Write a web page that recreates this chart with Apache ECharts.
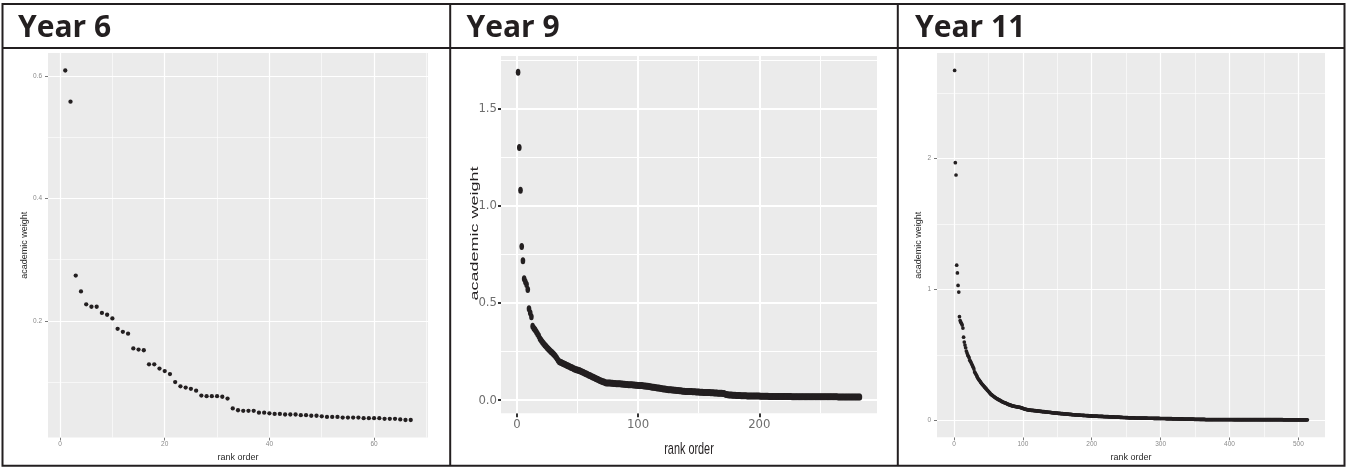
<!DOCTYPE html>
<html>
<head>
<meta charset="utf-8">
<script src="https://cdn.jsdelivr.net/npm/echarts@6/dist/echarts.min.js"></script>
<style>
  html, body { margin: 0; padding: 0; background: #ffffff; }
  #chart { width: 1346px; height: 467px; }
</style>
</head>
<body>
<div id="chart"></div>
<script>
// Panel headings and axis titles
const panelTitles = ['Year 6', 'Year 9', 'Year 11'];
const xTitle = 'rank order';
const yTitle = 'academic weight';

// Academic weight of each subject, in rank order (rank = position + 1)
const year6Weights = [
  0.609, 0.558, 0.274, 0.248, 0.227, 0.223, 0.223, 0.213, 0.210, 0.204,
  0.187, 0.182, 0.179, 0.155, 0.153, 0.152, 0.129, 0.129, 0.122, 0.118,
  0.113, 0.100, 0.093, 0.091, 0.089, 0.086, 0.078, 0.077, 0.077, 0.077,
  0.076, 0.073, 0.057, 0.054, 0.053, 0.053, 0.053, 0.050, 0.050, 0.049,
  0.048, 0.048, 0.047, 0.047, 0.047, 0.046, 0.046, 0.045, 0.045, 0.044,
  0.043, 0.043, 0.043, 0.042, 0.042, 0.042, 0.042, 0.041, 0.041, 0.041,
  0.041, 0.040, 0.040, 0.040, 0.039, 0.038, 0.038
];

const year9Weights = [
  1.688, 1.300, 1.081, 0.791, 0.718, 0.625, 0.610, 0.595, 0.570, 0.470,
  0.450, 0.430, 0.380, 0.370, 0.362, 0.352, 0.342, 0.332,
  0.318, 0.308, 0.300, 0.292, 0.284, 0.277, 0.270, 0.263, 0.257, 0.251,
  0.245, 0.239, 0.232, 0.225, 0.216, 0.206,
  0.198, 0.195, 0.192, 0.189, 0.186, 0.183, 0.180, 0.177, 0.174, 0.171,
  0.168, 0.165, 0.162, 0.159, 0.157, 0.155, 0.153, 0.151, 0.148,
  0.145, 0.142, 0.139, 0.136, 0.133, 0.130, 0.127, 0.124, 0.121, 0.118,
  0.115, 0.112, 0.109, 0.106, 0.103, 0.100, 0.097, 0.095, 0.093,
  0.090, 0.089, 0.089, 0.088, 0.088, 0.087, 0.087, 0.086, 0.086, 0.085,
  0.085, 0.084, 0.084, 0.083, 0.083, 0.082, 0.082, 0.081, 0.081, 0.080,
  0.080, 0.079, 0.079, 0.078, 0.078, 0.077, 0.077, 0.076, 0.076, 0.075,
  0.075, 0.074, 0.073, 0.073, 0.072,
  0.071, 0.070, 0.069, 0.068, 0.067, 0.066, 0.065, 0.064, 0.063, 0.062,
  0.061, 0.060, 0.059, 0.058, 0.057, 0.056, 0.055, 0.054, 0.053, 0.053,
  0.052, 0.052, 0.051, 0.051, 0.050, 0.050, 0.049, 0.049,
  0.047, 0.046, 0.046, 0.045, 0.045, 0.045, 0.044, 0.044, 0.044, 0.043,
  0.043, 0.043, 0.042, 0.042, 0.042, 0.041, 0.041, 0.041, 0.040, 0.040,
  0.040, 0.039, 0.039, 0.039, 0.038, 0.038, 0.038, 0.037, 0.037, 0.037,
  0.036, 0.036, 0.035, 0.035, 0.034, 0.034,
  0.030, 0.029, 0.028, 0.027, 0.026, 0.026, 0.025, 0.025, 0.025,
  0.024, 0.024, 0.024, 0.024, 0.023, 0.023, 0.023, 0.023, 0.023, 0.022,
  0.022, 0.022, 0.022, 0.022, 0.021, 0.021, 0.021, 0.021, 0.021, 0.021,
  0.020, 0.020, 0.020, 0.020, 0.020, 0.020, 0.020,
  0.019, 0.019, 0.019, 0.019, 0.019, 0.019, 0.019, 0.019, 0.019, 0.019,
  0.019, 0.019, 0.019, 0.019, 0.019, 0.019, 0.019, 0.019, 0.019,
  0.018, 0.018, 0.018, 0.018, 0.018, 0.018, 0.018, 0.018, 0.018, 0.018,
  0.018, 0.018, 0.018, 0.018, 0.018, 0.018, 0.018, 0.018, 0.018,
  0.017, 0.017, 0.017, 0.017, 0.017, 0.017, 0.017, 0.017, 0.017, 0.017,
  0.017, 0.017, 0.017, 0.017, 0.017, 0.017, 0.017, 0.017, 0.017,
  0.016, 0.016, 0.016, 0.016, 0.016, 0.016, 0.016, 0.016, 0.016, 0.016,
  0.016, 0.016, 0.016, 0.016, 0.016, 0.016, 0.016, 0.016, 0.016
];

const year11Weights = [
  2.674, 1.969, 1.875, 1.186, 1.127, 1.031, 0.980, 0.792, 0.763, 0.750,
  0.740, 0.728, 0.705, 0.636, 0.598, 0.575, 0.555, 0.530, 0.515, 0.500,
  0.490, 0.478, 0.460, 0.450, 0.440,
  0.428, 0.417, 0.405, 0.392, 0.370, 0.362, 0.352, 0.342, 0.330, 0.320,
  0.312, 0.305, 0.298, 0.290, 0.283, 0.276, 0.270, 0.264, 0.258, 0.252,
  0.246, 0.240, 0.234, 0.228, 0.222, 0.216, 0.210,
  0.203, 0.198, 0.194, 0.190, 0.186, 0.182, 0.178, 0.174, 0.170, 0.167,
  0.164, 0.161, 0.158, 0.155, 0.152, 0.149, 0.146, 0.143, 0.140, 0.138,
  0.136, 0.134,
  0.132, 0.130, 0.127, 0.124, 0.122, 0.120, 0.118, 0.116, 0.114, 0.112,
  0.110, 0.109, 0.108, 0.107, 0.106, 0.105, 0.104, 0.103, 0.102, 0.101,
  0.100, 0.099, 0.098, 0.096, 0.094, 0.092, 0.090, 0.088, 0.086, 0.085,
  0.084, 0.082, 0.081, 0.080,
  0.079, 0.078, 0.078, 0.077, 0.077, 0.076, 0.076, 0.075, 0.075, 0.074,
  0.073, 0.073, 0.072, 0.071, 0.071, 0.070, 0.069, 0.069, 0.068, 0.067,
  0.067, 0.066, 0.066, 0.065, 0.065, 0.064, 0.064, 0.063, 0.062, 0.062,
  0.061, 0.061, 0.060,
  0.059, 0.058, 0.058, 0.057, 0.057, 0.056, 0.056, 0.055, 0.055, 0.054,
  0.054, 0.053, 0.053, 0.052, 0.052, 0.051, 0.051, 0.050, 0.050, 0.049,
  0.049, 0.048, 0.048, 0.047, 0.047, 0.046, 0.046, 0.045, 0.045, 0.044,
  0.044, 0.043, 0.043, 0.042, 0.042, 0.042, 0.041, 0.041, 0.041, 0.040,
  0.040, 0.040, 0.039, 0.039, 0.039, 0.038, 0.038, 0.038, 0.037, 0.037,
  0.037, 0.036, 0.036, 0.036, 0.035, 0.035, 0.035, 0.034, 0.034,
  0.033, 0.033, 0.033, 0.033, 0.032, 0.032, 0.032, 0.032, 0.031, 0.031,
  0.031, 0.031, 0.030, 0.030, 0.030, 0.030, 0.029, 0.029, 0.029, 0.029,
  0.028, 0.028, 0.028, 0.028, 0.027, 0.027, 0.027, 0.027, 0.026, 0.026,
  0.026, 0.026, 0.025, 0.025, 0.025, 0.025, 0.024, 0.024, 0.024, 0.024,
  0.023, 0.023, 0.023, 0.023, 0.022, 0.022, 0.022, 0.022, 0.021, 0.021,
  0.021, 0.021, 0.020,
  0.019, 0.019, 0.019, 0.019, 0.019, 0.019, 0.019, 0.019, 0.019,
  0.018, 0.018, 0.018, 0.018, 0.018, 0.018, 0.018, 0.018, 0.018,
  0.017, 0.017, 0.017, 0.017, 0.017, 0.017, 0.017, 0.017, 0.017,
  0.016, 0.016, 0.016, 0.016, 0.016, 0.016, 0.016, 0.016, 0.016,
  0.015, 0.015, 0.015, 0.015, 0.015, 0.015, 0.015, 0.015, 0.015,
  0.014, 0.014, 0.014, 0.014, 0.014, 0.014, 0.014, 0.014, 0.014,
  0.013, 0.013, 0.013, 0.013, 0.013, 0.013, 0.013, 0.013, 0.013,
  0.012, 0.012, 0.012, 0.012, 0.012, 0.012, 0.012, 0.012,
  0.011, 0.011, 0.011, 0.011, 0.011, 0.011, 0.011, 0.011,
  0.010, 0.010, 0.010, 0.010, 0.010, 0.010, 0.010, 0.010,
  0.009, 0.009, 0.009, 0.009, 0.009, 0.009, 0.009, 0.009,
  0.008, 0.008, 0.008, 0.008, 0.008, 0.008, 0.008, 0.008,
  0.007, 0.007, 0.007, 0.007, 0.007, 0.007, 0.007, 0.007,
  0.006, 0.006, 0.006, 0.006, 0.006,
  0.006, 0.006, 0.006, 0.006, 0.006, 0.006, 0.006, 0.006, 0.006, 0.006,
  0.006, 0.006, 0.006, 0.006, 0.006, 0.006, 0.006, 0.006, 0.006, 0.006,
  0.006, 0.006, 0.006, 0.006, 0.006, 0.006, 0.006, 0.006, 0.006, 0.006,
  0.006, 0.006, 0.006, 0.006, 0.006, 0.006,
  0.005, 0.005, 0.005, 0.005, 0.005, 0.005, 0.005, 0.005, 0.005, 0.005,
  0.005, 0.005, 0.005, 0.005, 0.005, 0.005, 0.005, 0.005, 0.005, 0.005,
  0.005, 0.005, 0.005, 0.005, 0.005, 0.005, 0.005, 0.005, 0.005, 0.005,
  0.005, 0.005, 0.005, 0.005, 0.005, 0.005, 0.005, 0.005, 0.005, 0.005,
  0.005, 0.005, 0.005, 0.005, 0.005, 0.005, 0.005, 0.005, 0.005, 0.005,
  0.005, 0.005, 0.005, 0.005, 0.005, 0.005, 0.005, 0.005, 0.005, 0.005,
  0.005, 0.005, 0.005, 0.005, 0.005, 0.005, 0.005, 0.005, 0.005, 0.005,
  0.005, 0.005,
  0.004, 0.004, 0.004, 0.004, 0.004, 0.004, 0.004, 0.004, 0.004, 0.004,
  0.004, 0.004, 0.004, 0.004, 0.004, 0.004, 0.004, 0.004, 0.004, 0.004,
  0.004, 0.004, 0.004, 0.004, 0.004, 0.004, 0.004, 0.004, 0.004, 0.004,
  0.004, 0.004, 0.004, 0.004, 0.004, 0.004
];

// Labelled (major) tick values and the minor grid positions between them
const year6XTicks = [0, 20, 40, 60];
const year6YTicks = [0.2, 0.4, 0.6];
const year6XMinor = [10, 30, 50, 70];
const year6YMinor = [0.1, 0.3, 0.5];
const year9XTicks = [0, 100, 200];
const year9YTicks = [0.0, 0.5, 1.0, 1.5];
const year9XMinor = [50, 150, 250];
const year9YMinor = [0.25, 0.75, 1.25, 1.75];
const year11XTicks = [0, 100, 200, 300, 400, 500];
const year11YTicks = [0, 1, 2];
const year11XMinor = [50, 150, 250, 350, 450];
const year11YMinor = [0.5, 1.5, 2.5];

const INK = '#231f20';
const SANS = '"Liberation Sans", Arial, sans-serif';
const NARROW = '"Liberation Sans Narrow", "DejaVu Sans Condensed", "Liberation Sans", sans-serif';

// ggplot-style limits: data range padded by 5% on each side
function padded(lo, hi) {
  const d = (hi - lo) * 0.05;
  return [lo - d, hi + d];
}
function toPoints(values) {
  return values.map((v, i) => [i + 1, v]);
}

const panels = [
  {
    values: year6Weights, xTicks: year6XTicks, yTicks: year6YTicks,
    xMinor: year6XMinor, yMinor: year6YMinor,
    grid: { left: 48, top: 53, width: 380, height: 384.5 },
    yFmt: v => v.toFixed(1), symbolSize: 4.3,
    small: true, yNameGap: 16.5, xNameGap: 13.5
  },
  {
    values: year9Weights, xTicks: year9XTicks, yTicks: year9YTicks,
    xMinor: year9XMinor, yMinor: year9YMinor,
    grid: { left: 501, top: 56, width: 376, height: 357.3 },
    yFmt: v => v.toFixed(1), symbolSize: [4.6, 7],
    small: false
  },
  {
    values: year11Weights, xTicks: year11XTicks, yTicks: year11YTicks,
    xMinor: year11XMinor, yMinor: year11YMinor,
    grid: { left: 937, top: 53, width: 388, height: 384.3 },
    yFmt: v => String(Math.round(v)), symbolSize: 3.7,
    small: true, yNameGap: 11, xNameGap: 13.5
  }
];

function axisStyle(p, isX) {
  const ticks = isX ? p.xTicks : p.yTicks;
  const small = p.small;
  return {
    axisLine: { show: false, onZero: false },
    axisTick: {
      show: true, customValues: ticks,
      length: small ? 3 : (isX ? 4 : 3),
      lineStyle: { color: small ? '#555555' : '#333333', width: small ? 0.8 : 2 }
    },
    axisLabel: {
      customValues: ticks,
      fontFamily: small ? SANS : NARROW,
      fontSize: small ? 6.5 : 13,
      color: small ? '#8a8a8a' : '#6e6e6e',
      margin: small ? (isX ? 3.5 : 6) : (isX ? 5 : 4),
      formatter: isX ? (v => String(Math.round(v))) : p.yFmt
    },
    splitLine: { show: false },
    minorSplitLine: { show: false }
  };
}

// White panel grid lines placed on the axis scales
function gridLines(p) {
  const major = { color: '#ffffff', width: p.small ? 1.2 : 2, type: 'solid' };
  const minor = { color: '#ffffff', width: p.small ? 0.6 : 1, type: 'solid' };
  const items = [];
  p.xMinor.forEach(v => items.push({ xAxis: v, lineStyle: minor }));
  p.yMinor.forEach(v => items.push({ yAxis: v, lineStyle: minor }));
  p.xTicks.forEach(v => items.push({ xAxis: v, lineStyle: major }));
  p.yTicks.forEach(v => items.push({ yAxis: v, lineStyle: major }));
  return items;
}

const grids = [], xAxes = [], yAxes = [], series = [];
panels.forEach((p, k) => {
  grids.push(Object.assign({ show: true, backgroundColor: '#ebebeb', borderWidth: 0 }, p.grid));
  const xl = padded(1, p.values.length);
  const yl = padded(Math.min(...p.values), Math.max(...p.values));
  const xa = Object.assign({ type: 'value', gridIndex: k, min: xl[0], max: xl[1] }, axisStyle(p, true));
  const ya = Object.assign({ type: 'value', gridIndex: k, min: yl[0], max: yl[1] }, axisStyle(p, false));
  if (p.small) {
    Object.assign(xa, {
      name: xTitle, nameLocation: 'middle', nameGap: p.xNameGap,
      nameTextStyle: { fontFamily: SANS, fontSize: 9, color: '#2b2b2b' }
    });
    Object.assign(ya, {
      name: yTitle, nameLocation: 'middle', nameGap: p.yNameGap,
      nameTextStyle: { fontFamily: SANS, fontSize: 9, color: '#2b2b2b' }
    });
  }
  xAxes.push(xa);
  yAxes.push(ya);
  series.push({
    type: 'line', xAxisIndex: k, yAxisIndex: k, data: [], z: 1, silent: true,
    markLine: {
      z: 1, silent: true, symbol: ['none', 'none'], label: { show: false },
      emphasis: { disabled: true }, animation: false,
      data: gridLines(p)
    }
  });
  series.push({
    type: 'scatter', xAxisIndex: k, yAxisIndex: k, z: 3,
    data: toPoints(p.values),
    symbol: 'circle', symbolSize: p.symbolSize,
    itemStyle: { color: INK, opacity: 1 },
    silent: true
  });
});

// Table frame: outer box, heading row and column dividers
const frame = [
  { type: 'rect', shape: { x: 2.5, y: 4, width: 1342, height: 461.7 }, style: { fill: 'none', stroke: INK, lineWidth: 2 } },
  { type: 'line', shape: { x1: 2.5, y1: 48, x2: 1344.5, y2: 48 }, style: { stroke: INK, lineWidth: 2 } },
  { type: 'line', shape: { x1: 450.2, y1: 4, x2: 450.2, y2: 465.7 }, style: { stroke: INK, lineWidth: 2 } },
  { type: 'line', shape: { x1: 897.8, y1: 4, x2: 897.8, y2: 465.7 }, style: { stroke: INK, lineWidth: 2 } }
];
const headingX = [18, 466.5, 915];
const headings = panelTitles.map((t, k) => ({
  type: 'text', x: headingX[k], y: 28,
  style: {
    text: t, fill: INK, align: 'left', verticalAlign: 'middle',
    font: 'bold 30px "Open Sans", "Noto Sans", sans-serif'
  }
}));
// Year 9 panel titles are drawn condensed, like the rest of that panel
const year9Titles = [
  {
    type: 'text', x: 689, y: 449, scaleX: 0.64,
    style: { text: xTitle, fill: INK, align: 'center', verticalAlign: 'middle', font: '17px ' + SANS }
  },
  {
    type: 'text', x: 475, y: 233.5, rotation: Math.PI / 2, scaleY: 0.6,
    style: { text: yTitle, fill: INK, align: 'center', verticalAlign: 'middle', font: '18px ' + SANS }
  }
];

const chart = echarts.init(document.getElementById('chart'), null, { renderer: 'canvas' });
chart.setOption({
  animation: false,
  backgroundColor: '#ffffff',
  grid: grids,
  xAxis: xAxes,
  yAxis: yAxes,
  series: series,
  graphic: { elements: frame.concat(headings, year9Titles) }
});
</script>
</body>
</html>
